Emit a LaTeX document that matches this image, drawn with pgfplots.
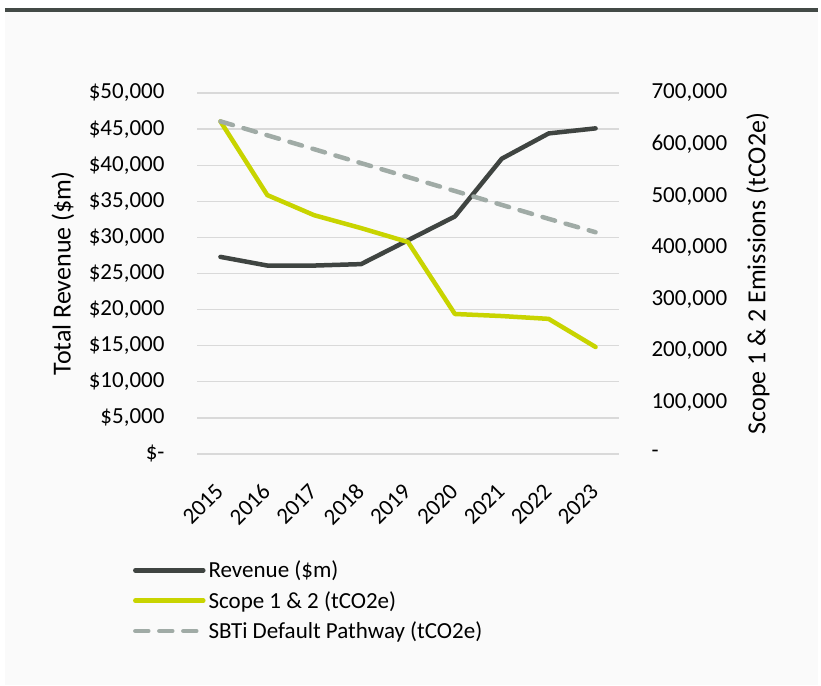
\documentclass[border=0pt]{standalone}
\usepackage{pgfplots}
\pgfplotsset{compat=1.18}
\usepackage{fontspec}
\setmainfont{Carlito}
\definecolor{revc}{HTML}{3F4441}
\definecolor{scopec}{HTML}{C8D400}
\definecolor{sbtic}{HTML}{A0ABA6}
\definecolor{gridc}{HTML}{D9D9D9}
\definecolor{bgc}{HTML}{FAFAFA}
\definecolor{barc}{HTML}{434A46}
\begin{document}
\begin{tikzpicture}[x=1pt,y=1pt]
\useasboundingbox (0,0) rectangle (821,685);
\fill[bgc] (5,0) rectangle (818,673);
\fill[barc] (5,673) rectangle (818,677);
\pgfplotsset{
  mybase/.style={
    scale only axis, width=422pt, height=361pt,
    at={(197pt,231pt)}, anchor=south west,
    xmin=-0.5, xmax=8.5,
    xtick={0,...,8},
    axis line style={draw=none},
    major tick length=0pt,
    tick label style={font=\fontsize{23}{27}\selectfont},
    label style={font=\fontsize{26}{30}\selectfont},
    scaled y ticks=false,
  }
}
\begin{axis}[mybase,
  ymin=0, ymax=50000,
  ytick={0,5000,...,50000},
  yticklabels={\$-,\$5{,}000,\$10{,}000,\$15{,}000,\$20{,}000,\$25{,}000,\$30{,}000,\$35{,}000,\$40{,}000,\$45{,}000,\$50{,}000},
  yticklabel style={anchor=east, xshift=-29pt},
  ymajorgrids, grid style={color=gridc, line width=1.3pt},
  xticklabels={2015,2016,2017,2018,2019,2020,2021,2022,2023},
  xticklabel style={rotate=45, anchor=east, yshift=-23pt, xshift=-21pt},
  ylabel={Total Revenue (\$m)},
  ylabel style={at={(axis description cs:-0.3175,0.5)}, anchor=center},
]
\addplot[revc, line width=4.5pt, line join=round, line cap=round] coordinates {
(0,27300) (1,26100) (2,26100) (3,26300) (4,29600) (5,32900) (6,40900) (7,44400) (8,45100)};
\end{axis}
\begin{axis}[mybase,
  axis y line*=right, axis x line=none,
  ymin=0, ymax=700000,
  ytick={0,100000,...,700000},
  yticklabels={-,100{,}000,200{,}000,300{,}000,400{,}000,500{,}000,600{,}000,700{,}000},
  yticklabel style={anchor=west, xshift=29pt},
  ylabel={Scope 1 \& 2 Emissions (tCO2e)},
  ylabel style={at={(axis description cs:1.329,0.5)}, anchor=center},
  legend style={at={(rel axis cs:-0.152,-0.288)}, anchor=north west, draw=none, fill=none,
    font=\fontsize{23}{27}\selectfont, row sep=6pt, inner sep=0pt, nodes={inner sep=3pt}},
  legend cell align=left,
  legend image code/.code={\draw[#1] (0pt,0pt) -- (68pt,0pt);},
]
\addlegendimage{revc, line width=4.5pt, line cap=round}
\addlegendentry{Revenue (\$m)}
\addplot[scopec, line width=4.5pt, line join=round, line cap=round] coordinates {
(0,645000) (1,502000) (2,463000) (3,438000) (4,411000) (5,271500) (6,267500) (7,262000) (8,207500)};
\addlegendentry{Scope 1 \& 2 (tCO2e)}
\addplot[sbtic, line width=4.5pt, line cap=round, dash pattern=on 13pt off 11pt] coordinates {
(0,645000) (1,618000) (2,591000) (3,564000) (4,537000) (5,510000) (6,483000) (7,456000) (8,430000)};
\addlegendentry{SBTi Default Pathway (tCO2e)}
\end{axis}
\end{tikzpicture}
\end{document}
